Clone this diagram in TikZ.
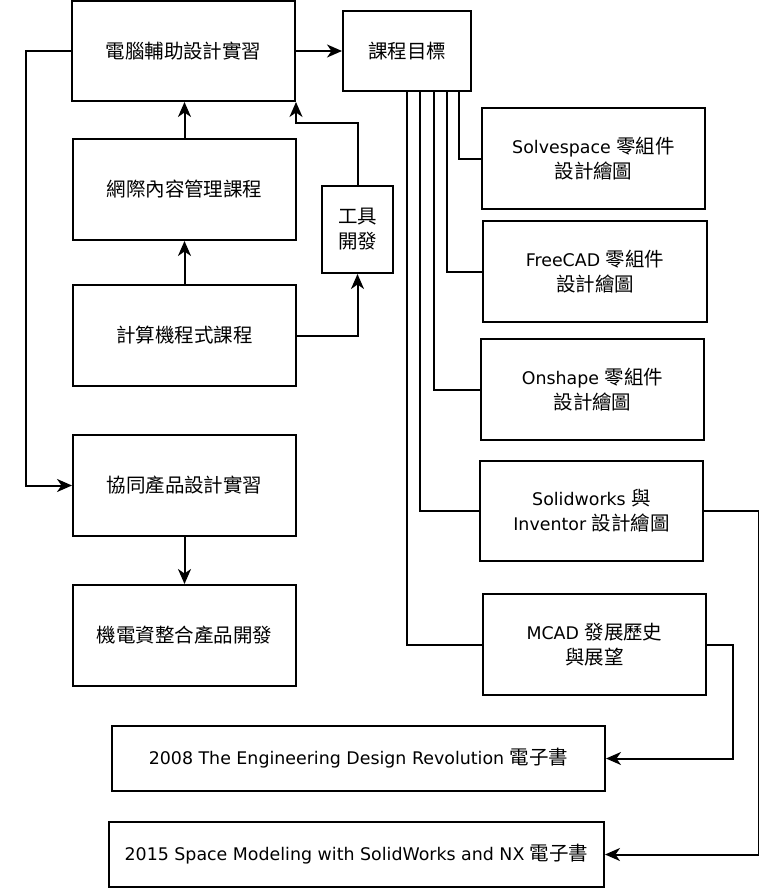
\documentclass[tikz,border=0pt]{standalone}
\usepackage{fontspec}
\setmainfont{DejaVu Sans}
\newfontfamily\cjkf{Noto Sans CJK TC}[Scale=1.12]
\newcommand\C[1]{{\cjkf #1}}
\usetikzlibrary{arrows.meta}
\begin{document}
\begin{tikzpicture}[x=1pt,y=-1pt,
  box/.style={draw, line width=2pt, inner sep=0pt, align=center,
    font=\fontsize{17.4}{25}\selectfont},
  conn/.style={line width=2pt},
  arr/.style={conn,-{Stealth[length=15pt,width=13pt,inset=4.5pt]}}]
\useasboundingbox (0,0) rectangle (759,888);
\fill[white] (0,0) rectangle (759,888);
% left column
\node[box, minimum width=223pt, minimum height=100pt] (A) at (183.5,51) {\C{電腦輔助設計實習}};
\node[box, minimum width=128pt, minimum height=80pt] (B) at (407,51) {\C{課程目標}};
\node[box, minimum width=223pt, minimum height=101pt] (C) at (184.5,189.5) {\C{網際內容管理課程}};
\node[box, minimum width=71pt, minimum height=87pt] (D) at (357.5,229.5) {\C{工具}\\\C{開發}};
\node[box, minimum width=223pt, minimum height=101pt] (E) at (184.5,335.5) {\C{計算機程式課程}};
\node[box, minimum width=223pt, minimum height=101pt] (F) at (184.5,485.5) {\C{協同產品設計實習}};
\node[box, minimum width=223pt, minimum height=101pt] (G) at (184.5,635.5) {\C{機電資整合產品開發}};
% right column
\node[box, minimum width=223pt, minimum height=101pt] (S1) at (593.5,158.5) {Solvespace \C{零組件}\\\C{設計繪圖}};
\node[box, minimum width=224pt, minimum height=101pt] (S2) at (595,271.5) {FreeCAD \C{零組件}\\\C{設計繪圖}};
\node[box, minimum width=223pt, minimum height=101pt] (S3) at (592.5,389.5) {Onshape \C{零組件}\\\C{設計繪圖}};
\node[box, minimum width=223pt, minimum height=100pt] (S4) at (591.5,511) {Solidworks \C{與}\\Inventor \C{設計繪圖}};
\node[box, minimum width=223pt, minimum height=101pt] (S5) at (594.5,644.5) {MCAD \C{發展歷史}\\\C{與展望}};
% books
\node[box, minimum width=493pt, minimum height=65pt] (K1) at (358.5,758.5) {2008 The Engineering Design Revolution \C{電子書}};
\node[box, minimum width=495pt, minimum height=65pt] (K2) at (356.5,854.5) {2015 Space Modeling with SolidWorks and NX \C{電子書}};
% connectors
\draw[arr] (A.west) -- ++(-45,0) |- (F.west);
\draw[arr] (A.east) -- (B.west);
\draw[arr] (C.north) -- (C.north |- A.south);
\draw[arr] (E.north) -- (C.south);
\draw[arr] (E.east) -| (D.south);
\draw[arr] (D.north) -- ++(0,-62) -| (A.south east);
\draw[arr] (F.south) -- (G.north);
\draw[conn] ([xshift=52pt]B.south) |- (S1.west);
\draw[conn] ([xshift=40pt]B.south) |- (S2.west);
\draw[conn] ([xshift=27pt]B.south) |- (S3.west);
\draw[conn] ([xshift=13pt]B.south) |- (S4.west);
\draw[conn] (B.south) |- (S5.west);
\draw[arr] (S4.east) -- ++(55,0) |- (K2.east);
\draw[arr] (S5.east) -- ++(26,0) |- (K1.east);
\end{tikzpicture}
\end{document}
